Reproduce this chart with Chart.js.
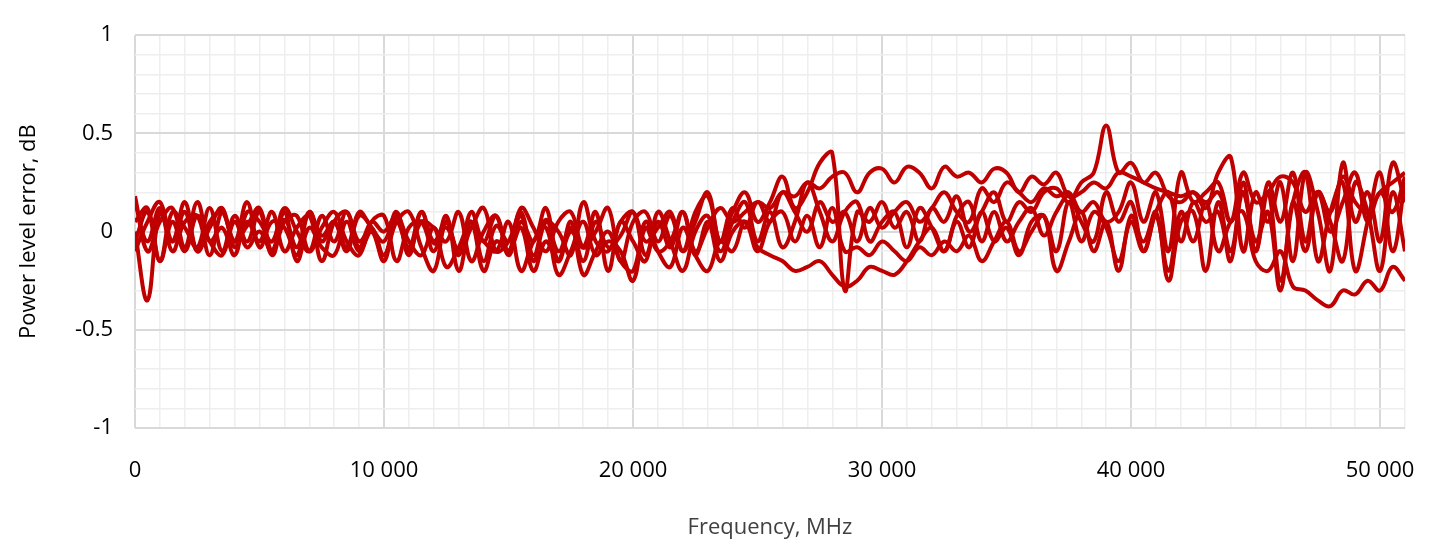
<!DOCTYPE html>
<html><head><meta charset="utf-8">
<script src="https://cdn.jsdelivr.net/npm/chart.js@4"></script>
<style>html,body{margin:0;padding:0;background:#fff}</style>
</head><body>
<canvas id="c" width="1442" height="545"></canvas>
<script>
const FREQ_START_MHZ = 0;
const FREQ_STEP_MHZ = 500;
const xTickLabels = {0:"0",10000:"10 000",20000:"20 000",30000:"30 000",40000:"40 000",50000:"50 000"};
const yTickLabels = {"1":"1","0.5":"0.5","0":"0","-0.5":"-0.5","-1":"-1"};

const series1 = [0.15,-0.05,0.12,-0.1,0.05,0.08,-0.12,0.1,-0.05,0.03,0.12,-0.1,0.06,-0.08,0.1,-0.02,0.05,-0.1,0.08,0.02,-0.12,0.05,-0.08,0.1,-0.06,0.02,-0.1,0.05,-0.15,0.03,-0.05,0.08,-0.12,0.06,-0.1,0.02,-0.15,0.05,-0.08,-0.02,0.1,-0.12,0.05,-0.08,0.1,-0.1,0.02,0.12,0.05,0.1,0.15,
0.12,0.2,0.18,0.25,0.22,0.28,0.3,0.2,0.3,0.32,0.25,0.33,0.3,0.22,0.33,0.28,0.3,0.25,0.32,0.3,0.2,0.28,0.24,0.3,
0.18,0.2,0.25,0.22,0.3,0.28,0.25,0.22,0.2,0.18,0.2,0.15,0.2,0.05,
0.2,-0.1,0.25,0.05,0.3,-0.05,0.2,0.1,0.28,0.15,0.1,0.2,0.25,0.3];
const series2 = [-0.05,0.1,-0.15,0.05,-0.1,0.08,-0.05,-0.12,0.05,-0.08,0,-0.1,0.1,-0.15,0.02,-0.08,-0.12,0.05,-0.1,0,-0.15,0.08,-0.05,-0.12,0.02,-0.18,-0.08,0.05,-0.2,-0.05,-0.1,0.02,-0.2,-0.05,-0.15,0.05,-0.22,-0.1,0,-0.15,-0.2,0.05,-0.1,-0.18,0.02,-0.12,-0.2,-0.05,-0.1,0.05,-0.08,-0.12,-0.15,
-0.2,-0.18,-0.15,-0.22,-0.28,-0.25,-0.18,-0.2,-0.22,-0.15,
-0.05,0.02,-0.1,0.05,-0.08,0.1,-0.05,0.02,-0.12,0.05,0.08,-0.1,0.15,-0.05,0.1,0.02,-0.15,0.05,-0.1,0.08,-0.2,0.1,-0.05,0.15,-0.1,0.05,
0.1,-0.15,-0.2,-0.1,-0.28,-0.3,-0.35,-0.38,-0.3,-0.32,-0.25,-0.3,-0.18,-0.25];
const series3 = [0.18,-0.1,0.05,0.12,-0.08,0.15,-0.05,0.02,-0.12,0.1,0.05,-0.05,0.12,0,-0.1,0.08,-0.05,0.1,-0.08,0.05,0,0.08,-0.12,0.1,-0.05,0.05,-0.12,0.1,-0.05,0.08,-0.1,0.12,0.02,-0.1,0.05,0.1,-0.08,0,0.12,-0.15,0.05,0.1,-0.05,0.08,-0.1,0.1,0.18,-0.05,0.1,0.2,0.05,0.15,0.28,0.12,0.2,
0.35,0.4,-0.3,0.1,
0.05,0.15,0.02,0.1,-0.05,0.12,0.05,0.18,0,0.1,0.2,0.05,0.15,0.1,0.2,0.22,0.15,0.25,0.3,
0.54,
0.3,0.35,0.25,0.3,0.18,0.15,0.2,0.12,0.3,0.38,
-0.1,0.2,0.05,0.25,-0.15,0.3,0.1,-0.2,0.35,0.05,0.2,-0.05,0.35,0.15];
const series4 = [0,-0.35,0.1,-0.05,0.15,-0.1,0.05,0.1,-0.05,0.15,
-0.08,0.05,0.02,-0.12,0.1,-0.05,0.05,-0.08,0.1,0.02,
-0.05,0.1,-0.1,0.05,0.02,-0.05,0.1,-0.15,0,0.08,
-0.12,0.05,-0.05,0.12,-0.15,0,-0.08,0.1,-0.2,0.05,
-0.05,-0.15,0.1,-0.05,-0.2,0,0.08,-0.1,0.05,0.15,
-0.05,0.1,-0.08,0.05,0.25,0.1,-0.05,0.1,0.15,-0.05,
0.05,0.1,-0.08,0.12,0.02,-0.1,0.08,0.15,-0.05,0.1,
-0.05,0.05,0.12,-0.02,0.1,0.18,0.05,-0.05,0.2,0.05,
0.15,-0.1,0.1,0.2,-0.05,0.15,0.05,0.1,-0.15,0.25,
-0.1,0.2,-0.25,0.15,0.3,-0.15,0.1,0.25,-0.2,0.05,
0.3,-0.1,0.25];
const series5 = [0.05,0.12,-0.15,0.1,0.02,-0.08,0.12,-0.1,0.08,-0.05,
0.1,-0.12,0.05,0.08,-0.1,0.02,0.1,-0.05,-0.12,0.05,
0.08,-0.15,0.02,0.05,-0.1,0.08,-0.2,0.02,-0.05,-0.1,
0.05,-0.2,-0.05,0.02,-0.22,-0.1,0.05,-0.12,-0.05,-0.1,
-0.25,0.02,-0.1,-0.05,0.1,-0.12,0.05,-0.15,0,0.05,
-0.1,0.05,0.1,-0.05,0.08,-0.08,0.12,-0.1,-0.08,-0.12,
-0.05,-0.1,-0.15,-0.08,-0.12,-0.05,-0.1,-0.02,-0.15,-0.05,
0.05,-0.1,0,0.08,-0.2,-0.05,0.1,-0.1,0.05,-0.2,
0.08,-0.05,0.1,-0.25,0.05,0.1,-0.2,0.15,-0.1,0.2,
-0.05,0.1,-0.3,0.15,-0.1,0.2,0.05,-0.15,0.25,0.1,
-0.2,0.2,-0.1];
const series6 = [-0.1,0.05,0.15,-0.05,0.1,-0.1,0.02,0.12,-0.08,0.05,
-0.05,0.1,-0.1,0.02,0.08,-0.15,0.05,0.1,-0.05,0.02,
-0.12,0.05,0.1,-0.08,-0.2,0.05,-0.1,0.02,0.12,-0.1,
-0.05,0.1,-0.15,0.05,0,-0.12,0.15,-0.05,-0.1,0.05,
0.1,-0.05,0.02,0.1,-0.1,0.05,0.2,-0.05,0.12,0.02,
0.15,0.05,0.2,0.1,0,0.15,0.05,0.1,-0.05,0.12,
0.02,0.1,0.15,0.05,0.12,0.2,0.1,0.05,0.22,0.15,
0.25,0.2,0.15,0.22,0.18,0.2,0.1,0.15,0.05,0.1,
0.25,0.05,0.2,-0.1,0.3,0.15,0.2,0.25,0.05,0.3,
0.15,0.2,0.28,0.25,0.1,0.2,0,0.15,0.3,0.05,
0.2,0.1,0.28];

const allSeries = [series1, series2, series3, series4, series5, series6];
const FONT = "'Open Sans', 'Liberation Sans', sans-serif";
const datasets = allSeries.map(s => ({
  data: s.map((v, i) => ({x: FREQ_START_MHZ + i * FREQ_STEP_MHZ, y: v})),
  borderColor: '#C00000', borderWidth: 4, pointRadius: 0, tension: 0.4, fill: false
}));

new Chart(document.getElementById('c'), {
  type: 'line',
  data: {datasets},
  options: {
    responsive: false, animation: false,
    layout: {padding: {top: 9, right: 37, left: 12, bottom: 0}},
    plugins: {legend: {display: false}, tooltip: {enabled: false}},
    scales: {
      x: {
        type: 'linear', min: 0, max: 51000,
        afterBuildTicks: sc => { const t=[]; for (let v=0; v<=51000; v+=1000) t.push({value:v}); sc.ticks=t; },
        afterFit: sc => { sc.height = 117; },
        grid: {color: c => (c.tick && c.tick.value % 10000 === 0) ? '#d9d9d9' : '#eeeeee', lineWidth: c => (c.tick && c.tick.value % 10000 === 0) ? 2 : 1.5, drawTicks: false},
        border: {display: false},
        ticks: {autoSkip: false, maxRotation: 0, padding: 30, color: '#000', font: {family: FONT, size: 22},
          callback: v => xTickLabels[v] !== undefined ? xTickLabels[v] : ''},
        title: {display: true, text: 'Frequency, MHz', color: '#404040', font: {family: FONT, size: 22}, padding: {top: 0}}
      },
      y: {
        min: -1, max: 1,
        afterBuildTicks: sc => { const t=[]; for (let i=-10; i<=10; i++) t.push({value:i/10}); sc.ticks=t; },
        afterFit: sc => { sc.width = 123; },
        grid: {color: c => (c.tick && Math.abs(c.tick.value*2 - Math.round(c.tick.value*2)) < 1e-6) ? '#d9d9d9' : '#eeeeee', lineWidth: c => (c.tick && Math.abs(c.tick.value*2 - Math.round(c.tick.value*2)) < 1e-6) ? 2 : 1.5, drawTicks: false},
        border: {display: false},
        ticks: {autoSkip: false, padding: 22, color: '#000', font: {family: FONT, size: 22},
          callback: v => { const k = String(Math.round(v*10)/10); return yTickLabels[k] !== undefined ? yTickLabels[k] : ''; }},
        title: {display: true, text: 'Power level error, dB', color: '#000', font: {family: FONT, size: 22}, padding: {bottom: 12}}
      }
    }
  }
});
</script>
</body></html>
